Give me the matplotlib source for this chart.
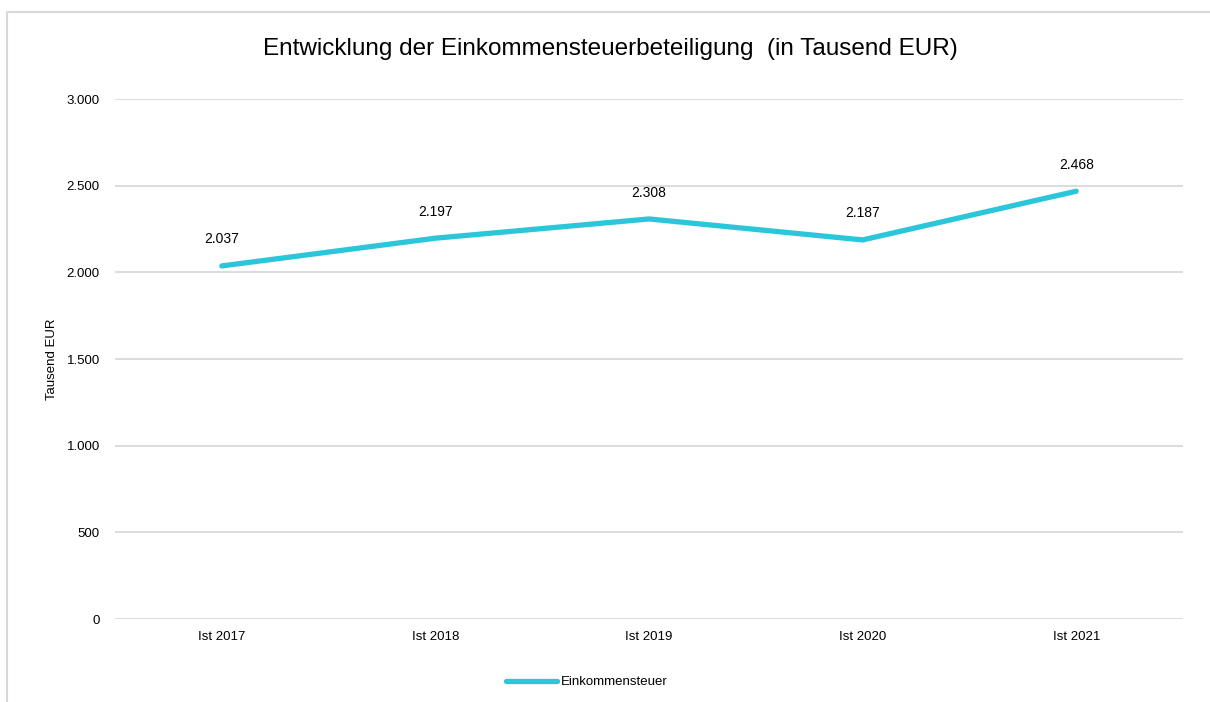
import matplotlib.pyplot as plt
from matplotlib.patches import Rectangle
from matplotlib.ticker import FuncFormatter

categories = ["Ist 2017", "Ist 2018", "Ist 2019", "Ist 2020", "Ist 2021"]
values = [2037, 2197, 2308, 2187, 2468]
series_name = "Einkommensteuer"

plt.rcParams["font.family"] = ["Liberation Sans", "DejaVu Sans"]

color = "#2BC6D9"
grid_color = "#D9D9D9"

fig = plt.figure(figsize=(12.1, 7.02), dpi=100)
# chart frame, cut off at the right and bottom edges like the original
fig.patches.append(Rectangle((7 / 1210, -0.1), 1.2, 1.1 - 12 / 702, transform=fig.transFigure,
                             fill=False, edgecolor="#D9D9D9", linewidth=1.5))
ax = fig.add_axes([115 / 1210, 1 - 619 / 702, 1068 / 1210, 520 / 702])

x = list(range(len(categories)))
ax.plot(x, values, color=color, linewidth=3.8, solid_capstyle="round",
        solid_joinstyle="round", label=series_name)
for xi, v in zip(x, values):
    ax.annotate(f"{v:,}".replace(",", "."), (xi, v), xytext=(0, 14), textcoords="offset points",
                ha="center", va="bottom", fontsize=10)

ax.set_xlim(-0.5, 4.5)
ax.set_ylim(0, 3000)
ax.set_yticks(range(0, 3001, 500))
ax.yaxis.set_major_formatter(FuncFormatter(lambda v, p: f"{int(v):,}".replace(",", ".")))
ax.set_xticks(x)
ax.set_xticklabels(categories)
ax.grid(axis="y", color=grid_color, linewidth=1.3)
ax.set_axisbelow(True)
for s in ax.spines.values():
    s.set_visible(False)
ax.tick_params(length=0, labelsize=9.5, pad=9)
ax.tick_params(axis="y", pad=11)
ax.set_ylabel("Tausend EUR", fontsize=9.5, labelpad=6)

fig.text(610 / 1210, 1 - 49 / 702, "Entwicklung der Einkommensteuerbeteiligung  (in Tausend EUR)",
         ha="center", va="center", fontsize=17.5)
fig.legend(loc="center", bbox_to_anchor=(587 / 1210, 1 - 682 / 702), frameon=False,
           fontsize=9.5, handlelength=3.9, handletextpad=0.3)

fig.savefig("out.png", dpi=100)
